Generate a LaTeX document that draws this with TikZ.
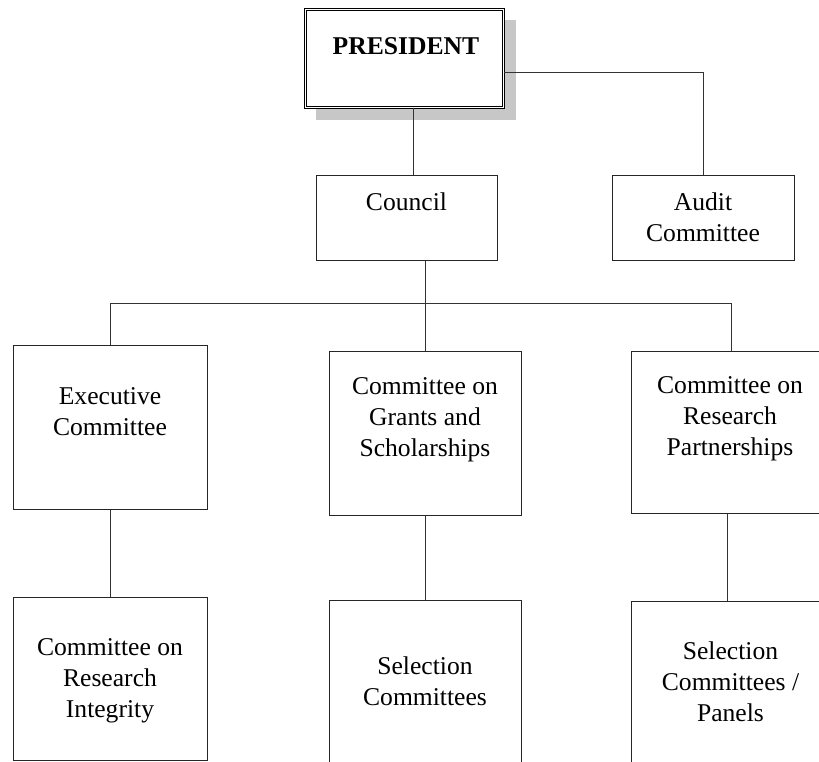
\documentclass[tikz,border=0pt]{standalone}
\usepackage{fontspec}
\setmainfont{Liberation Serif}
\begin{document}
\begin{tikzpicture}[x=1pt,y=-1pt,
  box/.style={draw=black!85, line width=0.8pt, fill=white, inner sep=0pt, anchor=north west},
  lbl/.style={align=center, font=\fontsize{25.6}{31}\selectfont, inner sep=0pt, anchor=base},
  conn/.style={draw=black!80, line width=0.8pt}]
\useasboundingbox (0,0) rectangle (819,761);
% shadow and president
\fill[black!22] (316,20) rectangle (516,120);
\node[box, draw=black, double=white, double distance=1.6pt, line width=0.7pt, minimum width=198pt, minimum height=98pt] (pres) at (305,9) {};
\node[lbl, font=\fontsize{25.6}{31}\selectfont\bfseries] (prest) at (406,54.5) {PRESIDENT};
% second level
\node[box, minimum width=181pt, minimum height=85pt] (council) at (316,175) {};
\node[lbl] (councilt) at (406.5,210) {Council};
\node[box, minimum width=182pt, minimum height=85pt] (audit) at (612,175) {};
\node[lbl] (auditt) at (703,241) {Audit\\Committee};
% third level
\node[box, minimum width=194pt, minimum height=164pt] (exec) at (13,345) {};
\node[lbl] (exect) at (110,435) {Executive\\Committee};
\node[box, minimum width=192pt, minimum height=164pt] (grants) at (329,351) {};
\node[lbl] (grantst) at (425,456) {Committee on\\Grants and\\Scholarships};
\node[box, minimum width=198pt, minimum height=162pt] (rp) at (631,351) {};
\node[lbl] (rpt) at (730,455.5) {Committee on\\Research\\Partnerships};
% fourth level
\node[box, minimum width=194pt, minimum height=163pt] (cri) at (13,597) {};
\node[lbl] (crit) at (110,717.5) {Committee on\\Research\\Integrity};
\node[box, minimum width=192pt, minimum height=175pt] (sel) at (329,600) {};
\node[lbl] (selt) at (425,705) {Selection\\Committees};
\node[box, minimum width=198pt, minimum height=175pt] (pan) at (631,601) {};
\node[lbl] (pant) at (730.5,721.5) {Selection\\Committees /\\Panels};
% helper coordinates
\coordinate (xa) at (413,0);
\coordinate (ya) at (0,72);
\coordinate (xb) at (425,0);
\coordinate (bus) at (0,303);
\coordinate (xc) at (727,0);
\coordinate (xd) at (731,0);
% connectors
\draw[conn] (pres.south -| xa) -- (council.north -| xa);
\draw[conn] (pres.east |- ya) -| (audit.north);
\draw[conn] (council.south -| xb) -- (bus -| xb);
\draw[conn] (bus -| exec.north) -- (bus -| xd);
\draw[conn] (bus -| exec.north) -- (exec.north);
\draw[conn] (bus -| xb) -- (grants.north -| xb);
\draw[conn] (bus -| xd) -- (rp.north -| xd);
\draw[conn] (exec.south) -- (cri.north);
\draw[conn] (grants.south -| xb) -- (sel.north -| xb);
\draw[conn] (rp.south -| xc) -- (pan.north -| xc);
\end{tikzpicture}
\end{document}
